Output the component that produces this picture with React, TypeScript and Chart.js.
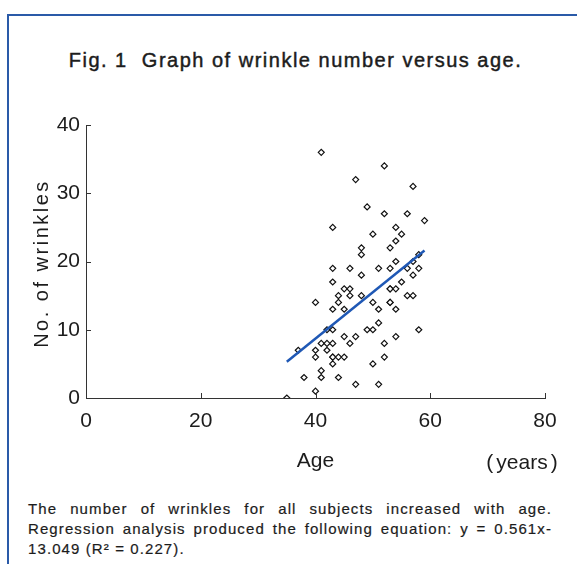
import React, { useEffect, useRef } from "react";
import { Chart, registerables } from "chart.js";

Chart.register(...registerables);

// Age (years) of each subject
const ages = [
  41, 52, 47, 57, 49, 52, 56, 59, 43, 54, 50, 55, 54, 48, 53, 48, 58, 54, 57,
  43, 46, 51, 53, 56, 58,
  48, 57,
  43, 55,
  45, 46, 53, 53, 54,
  44, 46, 48, 56, 57,
  40, 44, 50, 53, 53,
  43, 45, 51, 54,
  51,
  42, 43, 49, 50, 58,
  45, 47, 54,
  41, 42, 43, 46, 52,
  37, 40, 42,
  40, 43, 43, 44, 45, 52,
  43, 50,
  41,
  38, 41, 44,
  47, 51,
  40,
  35,
];
// Number of wrinkles of each subject
const wrinkles = [
  36, 34, 32, 31, 28, 27, 27, 26, 25, 25, 24, 24, 23, 22, 22, 21, 21, 20, 20,
  19, 19, 19, 19, 19, 19,
  18, 18,
  17, 17,
  16, 16, 16, 16, 16,
  15, 15, 15, 15, 15,
  14, 14, 14, 14, 14,
  13, 13, 13, 13,
  11,
  10, 10, 10, 10, 10,
  9, 9, 9,
  8, 8, 8, 8, 8,
  7, 7, 7,
  6, 6, 6, 6, 6, 6,
  5, 5,
  4,
  3, 3, 3,
  2, 2,
  1,
  0,
];
// Regression line end points as drawn
const fitAges = [35, 59];
const fitWrinkles = [5.3, 21.6];

const xTicks = [0, 20, 40, 60, 80];
const yTicks = [0, 10, 20, 30, 40];

const titleText = "Fig. 1  Graph of wrinkle number versus age.";
const xTitle = "Age";
const xUnit = "years";
const yTitle = "No. of wrinkles";
const captionLines = [
  "The number of wrinkles for all subjects increased with age.",
  "Regression analysis produced the following equation: y = 0.561x-",
  "13.049 (R\u00b2 = 0.227).",
];

const AXIS = "#333";
const TEXT = "#1c1c1c";
const BLUE = "#2a5aa8";
const LINE_BLUE = "#1f58b5";
const SANS = '"Liberation Sans", Arial, Helvetica, sans-serif';

const inwardTicks = {
  id: "inwardTicks",
  afterDraw(chart: any) {
    const { ctx, chartArea, scales } = chart;
    const x = scales.x;
    const y = scales.y;
    ctx.save();
    ctx.strokeStyle = AXIS;
    ctx.lineWidth = 1;
    xTicks.forEach((v) => {
      const px = Math.round(x.getPixelForValue(v)) + 0.5;
      ctx.beginPath();
      ctx.moveTo(px, chartArea.bottom);
      ctx.lineTo(px, chartArea.bottom - 5);
      ctx.stroke();
    });
    yTicks.forEach((v) => {
      const py = Math.round(y.getPixelForValue(v)) + 0.5;
      ctx.beginPath();
      ctx.moveTo(chartArea.left, py);
      ctx.lineTo(chartArea.left + 5, py);
      ctx.stroke();
    });
    // y-axis title, letter-spaced as in the printed figure
    ctx.font = `20px ${SANS}`;
    ctx.fillStyle = TEXT;
    (ctx as any).letterSpacing = "2.5px";
    ctx.textAlign = "center";
    ctx.textBaseline = "middle";
    ctx.translate(42, (chartArea.top + chartArea.bottom) / 2 + 2);
    ctx.rotate(-Math.PI / 2);
    ctx.fillText(yTitle, 0, 0);
    ctx.restore();
  },
};

export default function App() {
  const canvasRef = useRef<HTMLCanvasElement | null>(null);

  useEffect(() => {
    const canvas = canvasRef.current;
    if (!canvas) return;
    const chart = new Chart(canvas, {
      type: "scatter",
      data: {
        datasets: [
          {
            label: "fit",
            data: fitAges.map((a, i) => ({ x: a, y: fitWrinkles[i] })),
            showLine: true,
            borderColor: LINE_BLUE,
            borderWidth: 2.5,
            pointRadius: 0,
            order: 0,
          },
          {
            label: "subjects",
            data: ages.map((a, i) => ({ x: a, y: wrinkles[i] })),
            pointStyle: "rectRot",
            pointRadius: 3,
            borderColor: "#111",
            backgroundColor: "#fff",
            borderWidth: 1.2,
            order: 1,
          },
        ],
      },
      options: {
        animation: false,
        responsive: false,
        maintainAspectRatio: false,
        layout: { padding: { top: 25, right: 32, left: 0, bottom: 0 } },
        plugins: {
          legend: { display: false },
          tooltip: { enabled: false },
          title: { display: false },
        },
        scales: {
          x: {
            type: "linear",
            min: 0,
            max: 80,
            afterFit: (s: any) => {
              s.height = 82;
            },
            afterBuildTicks: (s: any) => {
              s.ticks = xTicks.map((v) => ({ value: v }));
            },
            grid: { display: false, drawTicks: false },
            border: { display: true, color: AXIS, width: 1 },
            ticks: {
              padding: 11,
              color: TEXT,
              font: { family: SANS, size: 21 },
            },
            title: {
              display: true,
              text: xTitle,
              color: TEXT,
              font: { family: SANS, size: 21, weight: "normal" },
              padding: { top: 0, bottom: 6 },
            },
          },
          y: {
            type: "linear",
            min: 0,
            max: 40,
            afterFit: (s: any) => {
              s.width = 86;
            },
            afterBuildTicks: (s: any) => {
              s.ticks = yTicks.map((v) => ({ value: v }));
            },
            grid: { display: false, drawTicks: false },
            border: { display: true, color: AXIS, width: 1 },
            ticks: {
              padding: 6,
              color: TEXT,
              font: { family: SANS, size: 21 },
            },
            title: { display: false },
          },
        },
      },
      plugins: [inwardTicks],
    });
    return () => chart.destroy();
  }, []);

  return (
    <div
      style={{
        position: "fixed",
        left: 0,
        top: 0,
        width: 577,
        height: 564,
        overflow: "hidden",
        background: "#fff",
        fontFamily: SANS,
        color: TEXT,
      }}
    >
      <div
        style={{
          position: "absolute",
          left: 7,
          top: 14,
          width: 580,
          height: 560,
          borderTop: `2px solid ${BLUE}`,
          borderLeft: `2px solid ${BLUE}`,
        }}
      />
      <div
        style={{
          position: "absolute",
          left: 0,
          top: 46,
          width: 591,
          textAlign: "center",
          fontSize: 20,
          letterSpacing: "1.5px",
          lineHeight: "28px",
          whiteSpace: "pre",
          WebkitTextStroke: `0.45px ${TEXT}`,
        }}
      >
        {titleText}
      </div>
      <canvas
        ref={canvasRef}
        width={577}
        height={380}
        style={{ position: "absolute", left: 0, top: 100, width: 577, height: 380 }}
      />
      <div
        style={{
          position: "absolute",
          left: 472,
          top: 449,
          width: 100,
          textAlign: "center",
          fontSize: 21,
          lineHeight: "26px",
          whiteSpace: "pre",
        }}
      >
        (<span style={{ margin: "0 3px" }}>{xUnit}</span>)
      </div>
      <div
        style={{
          position: "absolute",
          left: 28,
          top: 499,
          width: 524,
          fontSize: 15,
          letterSpacing: "1.1px",
          lineHeight: "20px",
          WebkitTextStroke: `0.2px ${TEXT}`,
        }}
      >
        {captionLines.map((line, i) => (
          <div
            key={i}
            style={{
              textAlign: "justify",
              textAlignLast: i < captionLines.length - 1 ? "justify" : "left",
              whiteSpace: "nowrap",
            }}
          >
            {line}
          </div>
        ))}
      </div>
    </div>
  );
}
